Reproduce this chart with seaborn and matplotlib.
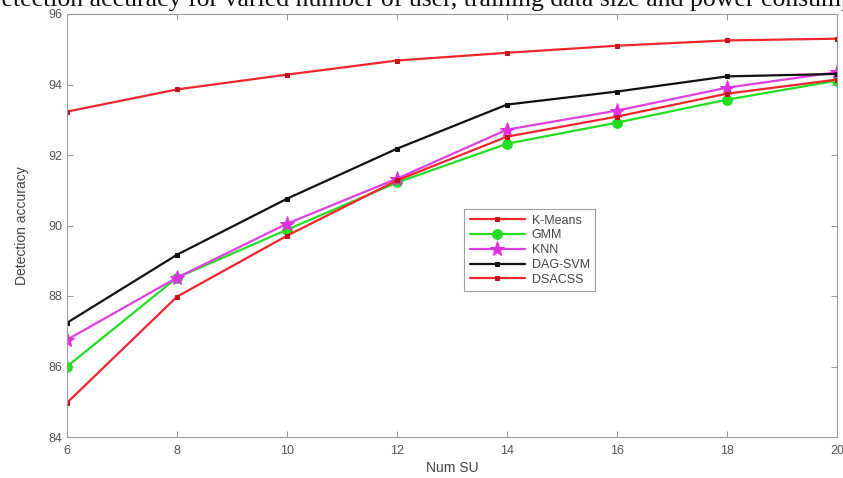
import numpy as np
import pandas as pd
import matplotlib
matplotlib.use("Agg")
import matplotlib.pyplot as plt
import seaborn as sns

# ------------------------------------------------------------
# dati
# ------------------------------------------------------------
num_su   = [6, 8, 10, 12, 14, 16, 18, 20]
kmeans   = [93.23, 93.86, 94.28, 94.68, 94.90, 95.10, 95.25, 95.30]
gmm      = [86.00, 88.52, 89.88, 91.22, 92.32, 92.92, 93.57, 94.11]
knn      = [86.76, 88.52, 90.05, 91.33, 92.72, 93.26, 93.91, 94.35]
dag_svm  = [87.24, 89.17, 90.76, 92.18, 93.43, 93.80, 94.23, 94.30]
dsacss   = [84.97, 87.98, 89.71, 91.28, 92.52, 93.09, 93.74, 94.14]

methods = ["K-Means", "GMM", "KNN", "DAG-SVM", "DSACSS"]
series  = [kmeans, gmm, knn, dag_svm, dsacss]

title_txt = "Detection accuracy for varied number of user, training data size and power consumption"

df = pd.DataFrame({
    "Num SU": np.tile(num_su, len(methods)),
    "acc": np.concatenate(series),
    "method": np.repeat(methods, len(num_su)),
})

# stile
styles = {
    "K-Means": dict(color="#f0262c", marker="s", ms=3.5, mfc="#c0141c"),
    "GMM":     dict(color="#22dd22", marker="o", ms=7,   mfc="#22dd22"),
    "KNN":     dict(color="#e040e0", marker="*", ms=11,  mfc="#e030e0"),
    "DAG-SVM": dict(color="#111111", marker="s", ms=3.5, mfc="#111111"),
    "DSACSS":  dict(color="#f0262c", marker="s", ms=3.5, mfc="#c0141c"),
}

sns.set_style("white")
plt.rcParams["font.family"] = ["Liberation Sans", "DejaVu Sans"]

fig = plt.figure(figsize=(8.43, 4.78), dpi=100)
ax = fig.add_axes([67 / 843, 1 - 437 / 478, 770 / 843, 423 / 478])

for m in methods:
    st = styles[m]
    sns.lineplot(
        data=df[df["method"] == m], x="Num SU", y="acc", ax=ax,
        color=st["color"], marker=st["marker"], markersize=st["ms"],
        markerfacecolor=st["mfc"], markeredgecolor=st["mfc"],
        linewidth=1.6, label=m, errorbar=None,
    )

ax.set_xlim(6, 20)
ax.set_ylim(84, 96)
ax.set_xticks(range(6, 21, 2))
ax.set_yticks(range(84, 97, 2))

for sp in ax.spines.values():
    sp.set_visible(True)
    sp.set_color("#9a9a9a")
    sp.set_linewidth(0.8)

ax.tick_params(direction="in", length=4, width=0.7, color="#9a9a9a",
               labelcolor="#555555", labelsize=9,
               top=True, right=True, bottom=True, left=True)
ax.tick_params(axis="x", pad=6)

ax.set_xlabel("Num SU", fontsize=10, color="#444444", labelpad=3)
ax.set_ylabel("Detection accuracy", fontsize=10, color="#444444", labelpad=14)

leg = ax.legend(loc="upper left", bbox_to_anchor=(0.5156, 0.539),
                borderaxespad=0, fontsize=9, handlelength=4.4,
                handletextpad=0.55, labelspacing=0.22, borderpad=0.45,
                frameon=True, fancybox=False, edgecolor="#888888")
leg.get_frame().set_linewidth(0.8)
for t in leg.get_texts():
    t.set_color("#444444")

# titolo tagliato in alto come nell'originale
fig.text(-17 / 843, 1 - 6 / 478, title_txt, ha="left", va="baseline",
         fontsize=18.5, family=["Liberation Serif", "DejaVu Serif"], color="#111111")

fig.savefig("out.png", dpi=100)
